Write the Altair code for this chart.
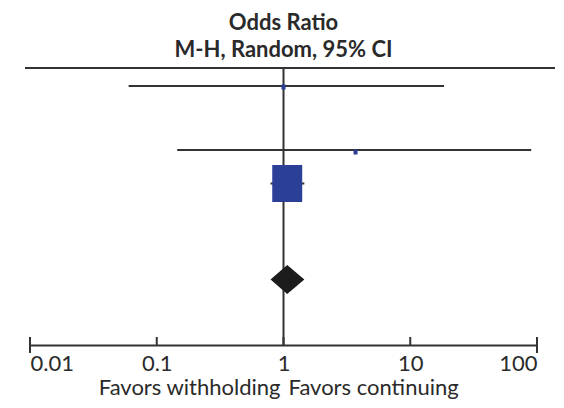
import altair as alt
import pandas as pd

# Study rows (odds ratio, 95% CI) and row positions (top-down units)
study_or = [1.0, 3.7, 1.07]
study_lo = [0.06, 0.145, 0.79]
study_hi = [18.5, 90.0, 1.46]
study_row = [26, 90, 123.5]
study_point_row = [27, 92, 123.5]
study_weight = [25, 25, 1369]

# Pooled estimate (diamond)
pooled_or = 1.07
pooled_lo = 0.79
pooled_hi = 1.46
pooled_row = 219.5
pooled_half = 14.5

tick_values = [0.01, 0.1, 1, 10, 100]
x_domain = [0.01, 100]
y_domain = [0, 285]

LINE = "#333333"
TEXT = "#2a2a2a"
BLUE = "#2b3f96"
FONT = "Lato"
FS = 22

studies = pd.DataFrame({
    "or": study_or, "lo": study_lo, "hi": study_hi,
    "row": study_row, "prow": study_point_row, "w": study_weight,
})
diamond = pd.DataFrame({
    "x": [pooled_lo, pooled_or, pooled_hi],
    "y": [pooled_row, pooled_row - pooled_half, pooled_row],
    "y2": [pooled_row, pooled_row + pooled_half, pooled_row],
})
ticks = pd.DataFrame({"v": tick_values})

xs = alt.Scale(type="log", domain=x_domain)
ys = alt.Scale(domain=y_domain, reverse=True)

base = alt.Chart(studies)

ci = base.mark_rule(color=LINE, strokeWidth=2).encode(
    x=alt.X("lo:Q", scale=xs, axis=alt.Axis(
        values=tick_values, format="~g", title=None, grid=False,
        ticks=False, domainColor=LINE, domainWidth=2,
        labelFont=FONT, labelFontSize=FS, labelColor=TEXT,
        labelFlush=True, labelPadding=8)),
    x2="hi:Q",
    y=alt.Y("row:Q", scale=ys, axis=None),
)

pts = base.mark_point(
    shape="M-0.81,-1L0.81,-1L0.81,1L-0.81,1Z", filled=True, color=BLUE,
    opacity=1, strokeWidth=0).encode(
    x=alt.X("or:Q", scale=xs),
    y=alt.Y("prow:Q", scale=ys),
    size=alt.Size("w:Q", scale=None, legend=None),
)

dia = alt.Chart(diamond).mark_area(color="#1c1c1c", opacity=1).encode(
    x=alt.X("x:Q", scale=xs),
    y=alt.Y("y:Q", scale=ys),
    y2="y2:Q",
)

vline = alt.Chart(pd.DataFrame({"v": [1]})).mark_rule(color=LINE, strokeWidth=2).encode(
    x=alt.X("v:Q", scale=xs),
    y=alt.value(8), y2=alt.value(285),
)

topline = alt.Chart(pd.DataFrame({"v": [1]})).mark_rule(color=LINE, strokeWidth=2).encode(
    x=alt.value(-5), x2=alt.value(525), y=alt.value(8),
)

tick_rules = alt.Chart(ticks).mark_rule(color=LINE, strokeWidth=2).encode(
    x=alt.X("v:Q", scale=xs),
    y=alt.value(277), y2=alt.value(285),
)
end_ticks = alt.Chart(pd.DataFrame({"v": [x_domain[0], x_domain[1]]})).mark_rule(
    color=LINE, strokeWidth=2).encode(
    x=alt.X("v:Q", scale=xs),
    y=alt.value(277), y2=alt.value(293),
)

favors = pd.DataFrame({"v": [1, 1], "t": ["Favors withholding", "Favors continuing"],
                       "side": ["l", "r"]})
left_txt = alt.Chart(favors[favors.side == "l"]).mark_text(
    align="right", baseline="alphabetic", dx=-3, font=FONT, fontSize=FS, color=TEXT).encode(
    x=alt.X("v:Q", scale=xs), y=alt.value(335), text="t:N")
right_txt = alt.Chart(favors[favors.side == "r"]).mark_text(
    align="left", baseline="alphabetic", dx=5, font=FONT, fontSize=FS, color=TEXT).encode(
    x=alt.X("v:Q", scale=xs), y=alt.value(335), text="t:N")

chart = alt.layer(
    topline, vline, ci, tick_rules, end_ticks, pts, dia, left_txt, right_txt
).properties(
    width=507, height=285,
    title=alt.TitleParams(
        text="Odds Ratio", subtitle="M-H, Random, 95% CI",
        font=FONT, fontSize=FS, fontWeight="bold", color=TEXT,
        subtitleFont=FONT, subtitleFontSize=FS, subtitleFontWeight="bold",
        subtitleColor=TEXT, subtitlePadding=5, anchor="middle", offset=-2),
    autosize=alt.AutoSizeParams(type="none"),
    padding={"left": 22, "top": 52, "right": 19, "bottom": 55},
).configure_view(stroke=None)

chart.save("out.html", embed_options={"renderer": "svg", "actions": False})
